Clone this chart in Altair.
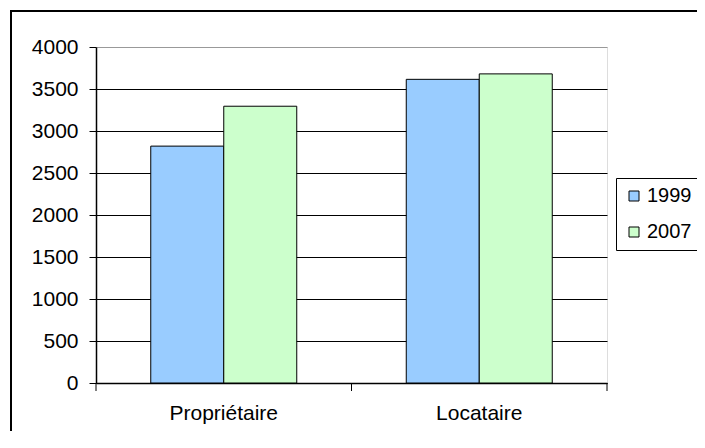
import altair as alt
import pandas as pd

categories = ["Propriétaire", "Propriétaire", "Locataire", "Locataire"]
years = ["1999", "2007", "1999", "2007"]
values = [2820, 3295, 3615, 3680]

cat_order = ["Propriétaire", "Locataire"]
year_order = ["1999", "2007"]
colors = ["#99CCFF", "#CCFFCC"]
y_ticks = [0, 500, 1000, 1500, 2000, 2500, 3000, 3500, 4000]

df = pd.DataFrame({"cat": categories, "year": years, "value": values})
cats_df = pd.DataFrame({"cat": cat_order})
one = pd.DataFrame({"a": [0]})

FONT = "Liberation Sans"
FS = 21

x_scale = alt.Scale(domain=cat_order, paddingInner=0, paddingOuter=0)

bars = alt.Chart(df).mark_bar(stroke="black", strokeWidth=1).encode(
    x=alt.X("cat:N", sort=cat_order, scale=x_scale, title=None,
            axis=alt.Axis(ticks=False, labelPadding=19, labelFontSize=FS,
                          labelFont=FONT, labelColor="black", labelAngle=0,
                          domainColor="black", domainWidth=1.5, grid=False)),
    xOffset=alt.XOffset("year:N", sort=year_order,
                        scale=alt.Scale(paddingInner=0, paddingOuter=0.75)),
    y=alt.Y("value:Q", scale=alt.Scale(domain=[0, 4000], nice=False), title=None,
            axis=alt.Axis(values=y_ticks, format="d", tickSize=7, tickColor="black",
                          labelPadding=11, labelFontSize=FS, labelFont=FONT,
                          labelColor="black", domainColor="black", domainWidth=1.5,
                          grid=True,
                          gridColor=alt.condition("datum.value >= 4000",
                                                  alt.value("#999999"),
                                                  alt.value("black")),
                          gridWidth=1)),
    color=alt.Color("year:N", sort=year_order,
                    scale=alt.Scale(domain=year_order, range=colors),
                    legend=alt.Legend(title=None, orient="none", legendX=520,
                                      legendY=131, symbolType="square",
                                      symbolSize=100, symbolStrokeColor="black",
                                      symbolStrokeWidth=1, labelFontSize=20,
                                      labelFont=FONT, labelColor="black",
                                      labelOffset=3, rowPadding=16, padding=8,
                                      strokeColor="black", fillColor="white")),
)

tick_left = alt.Chart(cats_df).mark_rule(color="black", strokeWidth=1).encode(
    x=alt.X("cat:N", sort=cat_order, scale=x_scale, bandPosition=0),
    y=alt.value(336), y2=alt.value(344))
tick_right = alt.Chart(cats_df).mark_rule(color="black", strokeWidth=1).encode(
    x=alt.X("cat:N", sort=cat_order, scale=x_scale, bandPosition=1),
    y=alt.value(336), y2=alt.value(344))

frame = alt.Chart(one).mark_rect(fill=None, stroke="black", strokeWidth=2).encode(
    x=alt.value(-85), x2=alt.value(640), y=alt.value(-36), y2=alt.value(440))

chart = alt.layer(frame, bars, tick_left, tick_right).properties(
    width=511, height=336,
    autosize=alt.AutoSizeParams(type="none"),
    padding={"left": 88, "top": 39, "right": 90, "bottom": 48},
).configure_view(stroke="#999999", strokeWidth=1.5).configure(background="white")

chart.save("out.html", embed_options={"renderer": "svg", "actions": False})
